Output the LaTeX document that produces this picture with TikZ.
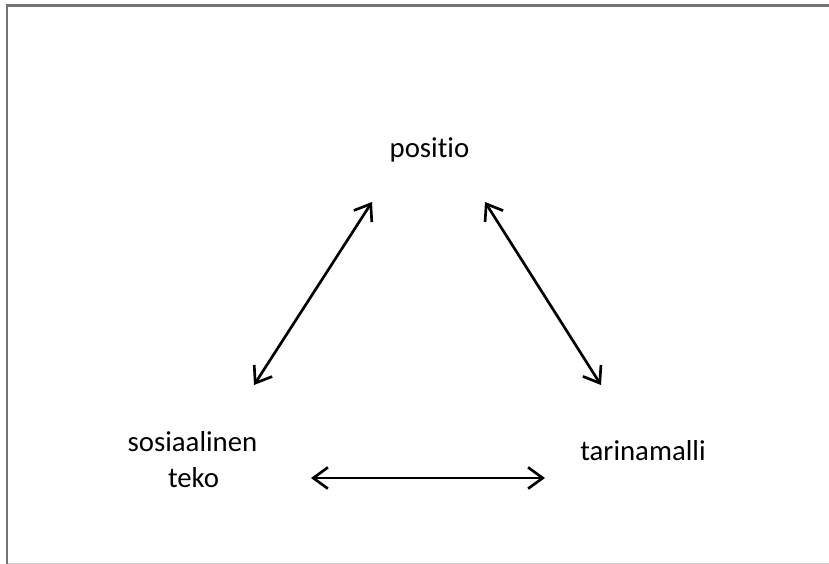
\documentclass[tikz,border=0pt]{standalone}
\usepackage{fontspec}
\setmainfont{Carlito}[Ligatures=NoCommon]
\usetikzlibrary{arrows.meta}
\begin{document}
\begin{tikzpicture}[x=0.75pt,y=-0.75pt,
  label/.style={inner sep=0pt,font=\fontsize{21.6}{27}\selectfont,text=black},
  link/.style={line width=2pt,black,{Straight Barb[length=11pt,width=16pt]}-{Straight Barb[length=11pt,width=16pt]}}]
  \useasboundingbox (0,0) rectangle (829,564);
  \fill[white] (0,0) rectangle (829,564);
  % frame edges
  \draw[line width=1.6pt,black!55] (7,564) -- (7,5.5) -- (829,5.5);
  \draw[line width=1pt,black!18] (8,563.5) -- (829,563.5);
  % labels
  \node[label,anchor=base] (pos) at (429.5,157) {positio};
  \node[label,anchor=base] (sos) at (192.5,451.7) {sosiaalinen};
  \node[label,anchor=base] (teko) at (193.5,487.7) {teko};
  \node[label,anchor=base] (tar) at (643,460) {tarinamalli};
  % arrow ends
  \coordinate (l1) at (254,385);
  \coordinate (l2) at (372,202);
  \coordinate (r1) at (485,202);
  \coordinate (r2) at (601,385);
  \coordinate (b1) at (311,478);
  \coordinate (b2) at (545,478);
  \draw[link] (l1) -- (l2);
  \draw[link] (r1) -- (r2);
  \draw[link] (b1) -- (b2);
\end{tikzpicture}
\end{document}
